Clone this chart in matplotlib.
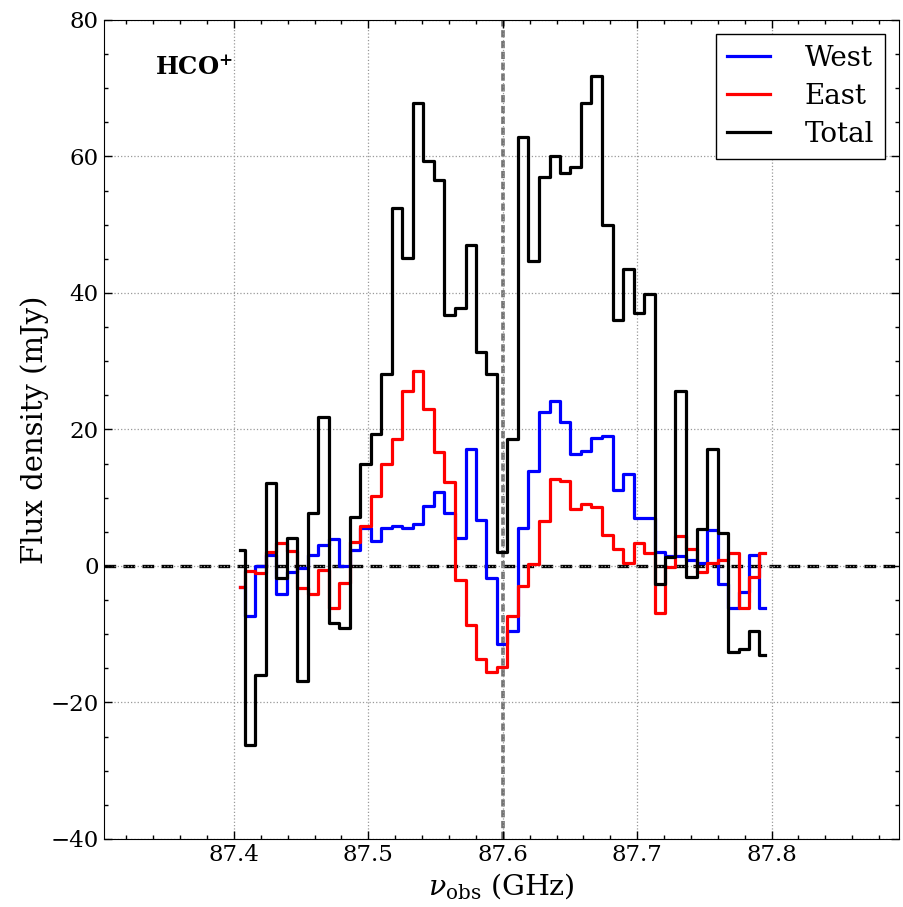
import matplotlib
matplotlib.use("Agg")
import matplotlib.pyplot as plt
from matplotlib.ticker import MultipleLocator

# Channel frequencies (GHz)
freq = [87.4043, 87.4121, 87.4199, 87.4277, 87.4356, 87.4434, 87.4512, 87.4590,
        87.4668, 87.4746, 87.4824, 87.4902, 87.4981, 87.5059, 87.5137, 87.5215,
        87.5293, 87.5371, 87.5449, 87.5527, 87.5606, 87.5684, 87.5762, 87.5840,
        87.5918, 87.5996, 87.6074, 87.6152, 87.6231, 87.6309, 87.6387, 87.6465,
        87.6543, 87.6621, 87.6699, 87.6777, 87.6856, 87.6934, 87.7012, 87.7090,
        87.7168, 87.7246, 87.7324, 87.7402, 87.7481, 87.7559, 87.7637, 87.7715,
        87.7793, 87.7871, 87.7949]

west = [-3.1, -7.4, 0.05, 1.6, -4.1, -0.9, -0.3, 1.6, 3.0, 3.9,
        0.0, 2.3, 5.6, 3.7, 5.6, 5.9, 5.6, 6.2, 8.8, 10.8,
        7.7, 4.1, 17.1, 6.7, -1.7, -11.5, -9.6, 5.6, 13.9, 22.6,
        24.1, 21.1, 16.4, 16.9, 18.7, 19.0, 11.1, 13.5, 7.0, 7.0,
        2.0, 1.5, 1.5, 0.9, 0.4, 5.2, -2.7, -6.1, -3.8, 1.6, -6.1]

east = [-3.1, -0.8, -1.1, 2.0, 3.3, 2.2, -3.2, -4.1, -0.6, -6.2,
        -2.5, 3.5, 5.8, 10.3, 14.9, 18.6, 25.7, 28.6, 23.0, 16.7,
        12.3, -2.1, -8.7, -13.6, -15.6, -14.8, -7.3, -3.0, 0.25, 6.6,
        12.8, 12.5, 8.3, 9.1, 8.6, 4.6, 2.5, 0.4, 3.3, 1.9,
        -6.9, -0.1, 4.4, 2.5, -0.9, 0.5, 0.9, 1.9, -6.1, -1.6, 1.9]

total = [2.3, -26.2, -16.0, 12.2, -1.8, 4.1, -16.9, 7.8, 21.8, -8.4,
         -9.1, 7.2, 15.0, 19.4, 28.1, 52.5, 45.1, 67.8, 59.3, 56.6,
         36.8, 37.8, 47.1, 31.4, 28.1, 2.1, 18.6, 62.9, 44.7, 57.0,
         60.0, 57.6, 58.4, 67.8, 71.8, 49.9, 36.1, 43.5, 37.1, 39.8,
         -2.7, 1.3, 25.7, -1.6, 5.4, 17.1, 4.9, -12.6, -12.2, -9.6, -13.1]

line_center = 87.6
xticks = [87.4, 87.5, 87.6, 87.7, 87.8]
yticks = [-40, -20, 0, 20, 40, 60, 80]

plt.rcParams['font.family'] = ['DejaVu Serif']
plt.rcParams['mathtext.fontset'] = 'dejavuserif'

fig = plt.figure(figsize=(9.04, 9.07), dpi=100)
ax = fig.add_axes([0.1145, 0.075, 0.8803, 0.903])

ax.step(freq, west, where='mid', color='blue', lw=2.3, label='West')
ax.step(freq, east, where='mid', color='red', lw=2.3, label='East')
ax.step(freq, total, where='mid', color='black', lw=2.3, label='Total')

ax.axhline(0, color='black', lw=2.4, ls=(0, (3.5, 2.2)), zorder=1)
ax.axvline(line_center, color='0.45', lw=2.6, ls=(0, (2, 1)), zorder=1)

ax.set_xlim(87.303, 87.895)
ax.set_ylim(-40, 80)
ax.set_xticks(xticks)
ax.set_yticks(yticks)
ax.xaxis.set_minor_locator(MultipleLocator(0.02))
ax.yaxis.set_minor_locator(MultipleLocator(5))
ax.tick_params(which='both', direction='in', top=True, right=True, labelsize=16.5)
ax.tick_params(which='major', length=6, width=1)
ax.tick_params(which='minor', length=3, width=1)
ax.grid(True, which='major', color='0.6', ls=':', lw=0.9)

ax.set_xlabel(r'$\nu_{\rm obs}$ (GHz)', fontsize=20.5)
ax.set_ylabel('Flux density (mJy)', fontsize=21, labelpad=1)

ax.text(0.065, 0.933, r'$\mathbf{HCO^{+}}$', transform=ax.transAxes,
        fontsize=17.5, va='baseline', ha='left')

leg = ax.legend(loc='upper right', fontsize=20, fancybox=False, framealpha=1,
                edgecolor='black', handlelength=1.55, handletextpad=1.25,
                labelspacing=0.4, borderpad=0.4, borderaxespad=0.5)
leg.get_frame().set_linewidth(1.0)

fig.savefig('out.png', dpi=100)
